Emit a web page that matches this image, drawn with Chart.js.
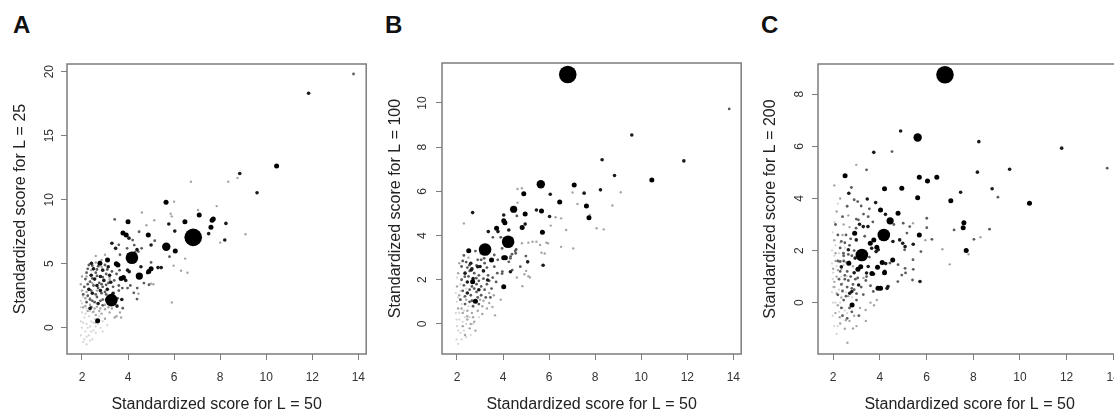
<!DOCTYPE html>
<html>
<head>
<meta charset="utf-8">
<script src="https://cdn.jsdelivr.net/npm/chart.js@4.4.1/dist/chart.umd.min.js"></script>
<style>
  html, body { margin: 0; padding: 0; background: #fff; width: 1114px; height: 411px; overflow: hidden; }
  .panel { position: absolute; top: 0; height: 411px; }
  .letra { position: absolute; top: 13px; font: bold 24px "Liberation Sans", Arial, sans-serif; line-height: 24px; color: #111; }
</style>
</head>
<body>
<div class="letra" style="left:13px">A</div>
<div class="letra" style="left:385px">B</div>
<div class="letra" style="left:761px">C</div>
<div class="panel" style="left:0;width:375px"><canvas id="chartA" width="375" height="411"></canvas></div>
<div class="panel" style="left:375px;width:375px"><canvas id="chartB" width="375" height="411"></canvas></div>
<div class="panel" style="left:750px;width:380px"><canvas id="chartC" width="380" height="411"></canvas></div>
<script>
// --- DATOS ---
const ticksX = [2, 4, 6, 8, 10, 12, 14];
const ticksYA = [0, 5, 10, 15, 20];
const ticksYB = [0, 2, 4, 6, 8, 10];
const ticksYC = [0, 2, 4, 6, 8];
const tituloX = 'Standardized score for L = 50';
const titulosY = ['Standardized score for L = 25', 'Standardized score for L = 100', 'Standardized score for L = 200'];

// [score L=50, score L=x, peso]
const puntosA = [
  [13.79,19.82,3],[11.84,18.31,4],[10.45,12.63,5],[8.85,12.05,4],[8.75,11.7,2],[8.35,11.4,2],[6.73,11.4,2],
  [9.6,10.55,4],[9.1,7.3,2],[7.85,9.5,2],[7.04,9.2,2],[7.09,8.8,5],[7.7,8.5,5],[7.65,8.4,5],[8.25,8.15,4],
  [7.6,7.85,5],[7.5,7.35,4],[8.2,6.85,4],[8.0,6.65,2],[6.83,7.06,9],[6.47,8.28,5],[5.65,9.8,5],[6.0,9.85,2],
  [5.85,8.9,2],[5.9,8.7,2],[5.77,8.1,4],[6.03,7.55,4],[5.66,6.33,7],[6.05,6.0,5],[5.8,5.55,3],[5.98,4.85,2],
  [6.48,5.4,2],[6.3,4.45,2],[6.58,4.3,2],[5.44,4.7,4],[5.3,4.7,4],[5.0,4.6,5],[4.9,4.4,5],[4.85,4.3,4],
  [5.0,5.1,3],[5.0,3.45,2],[4.88,7.24,5],[5.0,6.46,4],[5.14,8.4,2],[4.6,9.0,2],[4.8,8.0,2],[4.17,5.47,8],
  [4.49,4.04,6],[4.56,4.77,4],[4.0,8.28,5],[3.42,8.46,3],[3.78,7.4,5],[3.92,7.25,5],[4.04,7.0,4],[4.2,6.85,3],
  [3.3,6.6,4],[3.46,6.2,4],[4.27,6.46,3],[4.39,6.1,4],[3.96,6.2,3],[3.49,5.0,5],[3.56,4.9,5],[3.11,5.3,5],
  [2.78,5.03,5],[2.41,5.03,4],[3.14,4.77,4],[3.2,4.1,4],[3.7,3.85,5],[3.8,3.93,5],[3.9,3.7,4],[3.98,4.5,4],
  [4.05,4.38,4],[3.63,4.5,3],[3.28,2.16,8],[3.52,1.69,4],[3.73,2.21,4],[4.25,2.73,3],[4.39,2.24,3],[2.35,1.51,4],
  [2.68,0.55,5],[3.42,0.8,2],[5.9,1.98,2],[4.48,7.5,3],[5.16,6.8,3],[4.59,6.2,3],[4.45,5.95,3],[3.6,6.48,3],
  [4.3,5.9,3],[3.65,5.7,3],[3.0,5.7,2],[2.6,5.6,2],[4.69,3.49,3],[4.91,3.36,3],[5.1,3.4,2],[3.98,3.1,3],
  [4.45,2.65,2],[3.77,1.53,3],[3.7,0.8,2],[4.1,3.3,3],[4.4,3.1,3],[3.6,3.3,3],[3.35,2.7,4],[3.55,2.3,3],
  [2.3,4.9,3],[2.5,4.6,4],[2.7,4.8,3],[2.9,4.5,4],[3.0,4.9,3],[2.2,4.3,3],[2.4,4.1,4],[2.6,4.3,3],[2.8,4.0,4],
  [3.05,4.2,3],[3.3,4.4,3],[2.15,3.8,3],[2.35,3.6,3],[2.55,3.8,4],[2.75,3.5,3],[2.95,3.7,4],[3.15,3.5,3],
  [3.4,3.7,3],[2.1,3.2,3],[2.3,3.0,4],[2.5,3.3,3],[2.7,3.1,3],[2.9,3.2,3],[3.1,3.0,4],[3.35,3.2,3],[2.05,2.6,3],
  [2.25,2.5,3],[2.45,2.7,4],[2.65,2.4,3],[2.85,2.7,3],[3.05,2.6,3],[2.2,2.0,3],[2.45,2.1,3],[2.7,1.9,4],
  [2.9,2.2,3],[3.6,2.9,3],[3.75,3.1,3],[3.5,4.2,3],
  [2.25,4.6,3],[2.45,4.85,3],[2.65,4.55,3],[2.85,4.75,2],[3.1,4.55,3],[2.2,4.0,2],[2.45,3.85,3],[2.65,4.05,3],
  [2.9,3.95,3],[3.2,3.75,2],[2.25,3.4,3],[2.45,3.5,2],[2.65,3.3,4],[2.85,3.4,3],[3.05,3.35,3],[3.25,3.55,4],
  [2.2,2.8,2],[2.4,2.9,3],[2.6,2.6,3],[2.8,2.9,4],[3.0,2.8,3],[3.2,2.45,3],[2.35,2.2,3],[2.55,2.0,3],
  [2.8,2.1,3],[3.05,2.2,3],[2.15,1.7,2],[2.4,1.6,3],[2.65,1.65,2],[2.9,1.75,3],[3.15,1.6,2],[2.5,1.25,2],
  [2.75,1.3,2],[3.0,1.45,2],[2.6,0.4,2],[3.0,0.7,2],[3.3,1.5,2],[3.65,1.2,2],
  [2.0,4.0,2],[1.95,3.4,2],[2.0,2.9,2],[2.15,2.3,2],[2.35,1.8,2],[2.55,1.5,2],[2.8,1.5,2],[3.0,1.8,2],
  [2.05,1.6,2],[2.25,1.3,2],[2.6,1.0,2],[2.85,1.1,2],[3.2,1.2,2],[3.5,0.9,2],[2.4,4.5,2],[2.6,5.1,2],
  [2.85,5.3,2],[3.2,3.9,2],[2.65,2.9,2],[2.35,2.3,2],
  [1.95,2.1,1],[2.0,1.2,1],[2.1,0.8,1],[1.95,0.5,1],[2.2,0.3,1],[2.0,0.0,1],[2.15,-0.3,1],[1.95,-0.6,1],
  [2.1,-0.9,1],[2.2,-1.3,1],[2.3,0.9,1],[2.4,0.5,1],[2.35,0.1,1],[2.5,-0.2,1],[2.3,-0.6,1],[2.45,-0.9,1],
  [2.55,0.7,1],[2.7,0.3,1],[2.6,-0.4,1],[2.8,0.0,1],[2.9,0.5,1],[2.0,1.9,1],[2.2,1.5,1],[2.45,1.2,1],
  [2.1,2.6,1],[2.9,-0.3,1],[3.1,0.2,1],[2.75,0.9,1],[2.05,0.4,1],[2.25,0.0,1],[2.4,-0.3,1],[2.2,-0.7,1],
  [2.05,-1.1,1],[2.35,-1.0,1],[2.6,0.1,1],[2.5,0.4,1],[2.15,1.1,1],[2.35,1.3,1],[1.95,1.6,1],[2.05,2.4,1]
];

const puntosB = [
  [6.81,11.29,9],[13.82,9.73,3],[9.59,8.55,4],[8.3,7.43,4],[11.85,7.38,4],[8.84,6.72,4],[10.46,6.52,5],
  [9.11,5.96,2],[8.75,5.36,2],[8.06,4.33,2],[8.37,4.28,2],[8.23,6.07,4],[7.09,6.29,5],[7.02,5.95,2],
  [7.52,5.92,4],[7.23,5.43,2],[7.62,5.34,5],[7.73,4.81,5],[7.77,4.93,2],[5.64,6.32,7],[6.05,5.87,4],
  [6.46,5.52,5],[5.45,5.16,4],[5.67,5.11,5],[6.02,4.86,4],[6.28,4.83,2],[6.07,4.45,2],[5.71,4.15,5],
  [4.46,5.19,6],[4.9,5.89,5],[4.96,4.98,5],[4.96,4.52,4],[4.83,4.36,5],[4.6,4.89,3],[4.63,5.49,2],
  [4.63,6.11,2],[4.22,3.72,8],[3.22,3.37,8],[4.03,4.93,4],[4.03,4.67,5],[4.08,4.58,5],[3.72,4.33,5],
  [3.78,4.18,4],[3.36,4.18,4],[3.56,3.92,3],[3.9,3.92,3],[4.25,4.25,4],[2.68,5.04,4],[2.3,4.55,2],
  [2.51,3.31,5],[2.54,2.66,3],[2.9,2.59,4],[3.0,2.6,4],[3.5,2.89,5],[3.18,2.97,3],[3.96,3.42,3],
  [4.03,3.0,5],[4.1,3.0,5],[4.32,2.97,3],[4.39,3.16,3],[4.53,3.31,3],[4.57,3.37,3],[4.25,2.81,3],
  [4.32,2.36,4],[3.96,2.28,3],[4.03,1.68,5],[5.07,2.81,4],[5.74,2.66,4],[4.82,3.65,2],[5.1,3.68,2],
  [5.28,3.72,2],[5.45,3.72,2],[5.61,3.57,2],[5.88,3.68,2],[5.95,3.65,2],[5.67,3.22,2],[5.81,3.19,2],
  [4.99,3.07,3],[4.93,2.25,2],[5.1,2.16,2],[5.17,2.1,2],[4.6,2.1,2],[4.84,1.71,2],[6.52,3.49,2],
  [7.05,3.42,2],[6.74,4.25,2],[6.52,4.78,2],[4.82,6.14,2],[3.65,0.39,2],[3.54,0.77,2],[2.8,1.03,5],
  [2.68,1.91,5],[3.52,2.9,4],[2.62,2.44,4],[2.84,2.07,3],[2.34,2.14,3],[3.33,1.99,4],[3.62,2.59,3],
  [3.97,2.37,3],[4.33,3.05,3],[4.4,2.44,3],[4.55,3.2,3],[4.75,2.59,3],[5.0,2.4,2],[3.05,3.2,3],
  [3.62,3.12,3],[3.77,2.9,3],
  [2.2,2.6,3],[2.4,2.8,3],[2.35,2.3,4],[2.55,2.4,3],[2.75,2.3,3],[2.95,2.2,3],[3.15,2.4,4],[3.35,2.2,3],
  [3.55,2.1,3],[2.2,2.0,3],[2.45,1.9,4],[2.65,1.7,3],[2.85,1.8,3],[3.05,1.7,3],[3.3,1.8,3],[3.5,1.6,3],
  [2.25,1.5,3],[2.45,1.4,4],[2.6,1.3,3],[2.85,1.45,3],[3.05,1.3,3],[3.25,1.2,3],[2.15,1.1,3],[2.35,0.9,3],
  [2.55,1.0,3],[2.7,0.8,3],[2.95,0.9,3],[2.6,2.75,4],[2.9,2.9,3],[3.2,2.75,3],[3.75,2.3,3],[3.7,1.9,3],
  [2.3,3.1,3],[2.8,3.3,3],
  [2.25,2.85,3],[2.45,2.55,3],[2.65,2.5,4],[2.85,2.65,3],[3.05,2.9,3],[3.3,2.55,3],[2.3,1.75,3],[2.5,2.15,3],
  [2.7,2.05,4],[2.95,1.95,3],[3.15,2.05,3],[3.4,1.95,3],[2.35,1.25,3],[2.55,1.55,3],[2.75,1.6,3],[2.95,1.55,4],
  [3.2,1.55,3],[3.45,1.2,3],[2.4,1.1,2],[2.65,1.05,3],[2.9,1.2,3],[3.15,1.05,2],[2.2,0.7,2],[2.45,0.35,2],
  [2.7,0.3,2],[3.1,0.45,2],[3.4,0.95,2],[2.6,0.0,2],[2.35,-0.5,2],
  [2.05,2.3,2],[2.0,1.7,2],[2.1,1.3,2],[2.05,0.7,2],[2.25,0.5,2],[2.45,0.6,2],[2.65,0.5,2],[2.9,0.6,2],
  [3.1,0.8,2],[3.3,0.7,2],[2.25,-0.1,2],[2.45,0.2,2],[2.55,-0.2,2],[2.75,0.1,2],[2.8,-0.3,2],[3.4,1.4,2],
  [3.6,1.3,2],[3.9,1.1,2],[2.1,2.75,2],[2.5,3.0,2],[3.0,1.1,2],
  [1.95,1.4,1],[2.0,1.0,1],[1.95,0.5,1],[2.1,0.2,1],[2.0,-0.1,1],[2.15,-0.4,1],[1.98,-0.7,1],[2.05,-0.9,1],
  [2.2,0.9,1],[2.35,0.3,1],[2.3,-0.3,1],[2.4,-0.6,1],[2.55,0.3,1],[2.6,-0.5,1],[2.7,0.0,1],[2.15,1.8,1],
  [2.3,1.2,1],[2.5,0.8,1],[2.95,0.3,1],[2.0,2.1,1],[2.4,1.6,1],[2.1,0.5,1],[2.25,0.1,1],[2.05,-0.3,1],
  [2.2,-0.7,1],[2.4,0.0,1],[1.98,0.2,1],[2.15,1.5,1],[2.3,0.6,1],[2.05,1.2,1]
];

const puntosC = [
  [6.79,8.75,9],[4.89,6.59,4],[5.62,6.34,7],[3.74,5.77,4],[4.52,5.8,3],[2.99,5.29,2],[3.43,5.1,3],
  [2.51,4.87,5],[5.69,4.81,5],[6.04,4.67,5],[6.44,4.81,5],[8.24,6.18,4],[11.79,5.93,4],[13.74,5.16,3],
  [9.56,5.12,4],[8.18,5.01,4],[8.81,4.37,4],[9.06,4.05,3],[10.41,3.82,5],[7.46,4.24,4],[7.04,3.91,5],
  [4.2,4.37,5],[4.94,4.39,5],[5.62,4.03,5],[2.67,4.2,4],[3.46,3.98,4],[3.82,3.84,4],[4.03,3.56,5],
  [4.24,3.39,4],[4.44,3.14,6],[4.78,3.43,5],[4.17,2.6,8],[3.23,1.83,8],[5.69,2.6,5],[6.01,3.24,3],
  [6.01,2.88,3],[7.6,3.07,5],[7.57,2.88,5],[7.7,2.0,5],[7.8,1.86,2],[7.18,2.79,3],[8.7,2.82,3],
  [8.31,2.51,2],[8.03,2.43,3],[6.68,2.05,2],[6.99,1.47,2],[6.23,2.43,3],[5.76,1.96,3],[5.43,2.24,4],
  [5.08,2.15,4],[4.98,2.28,4],[5.08,1.32,3],[5.43,1.28,3],[5.72,0.81,4],[5.4,0.87,3],[4.94,1.06,3],
  [4.77,0.81,3],[4.55,1.64,5],[4.31,0.55,4],[4.03,0.55,5],[3.92,0.55,5],[4.2,1.15,5],[4.1,1.54,5],
  [3.9,1.36,5],[3.73,1.1,4],[3.84,1.96,4],[3.87,2.13,5],[3.59,2.28,5],[3.74,2.41,5],[2.99,2.41,4],
  [2.92,2.66,5],[3.49,2.92,4],[3.13,3.01,4],[2.99,3.21,3],[3.2,3.71,3],[2.78,4.42,3],[2.81,-0.09,5],
  [2.71,0.36,4],[3.09,0.68,4],[2.67,1.51,5],[3.06,1.28,5],[3.18,1.38,5],[2.9,1.15,4],[2.35,1.38,4],
  [2.61,-1.54,2],[2.85,-0.99,2],[2.54,-0.67,2],[2.28,-0.56,2],[3.39,-0.28,2],[3.87,0.1,2],
  [3.08,3.18,3],[3.29,2.92,4],[2.98,2.86,3],[3.93,2.03,4],[3.65,2.09,4],[2.65,2.03,4],[2.44,1.9,3],
  [2.3,1.58,3],[2.94,1.71,4],[3.5,1.39,4],[3.43,1.14,4],[3.66,1.12,5],[4.21,1.2,4],[4.25,1.5,4],
  [4.43,1.52,3],[4.35,0.62,4],[2.8,0.43,4],[3.29,0.31,3],[3.72,0.43,3],[3.43,1.0,3],[5.06,2.03,3],
  [5.42,1.65,3],[5.1,1.14,3],[4.78,1.46,3],[5.16,2.67,3],[4.85,2.41,4],[4.56,2.35,4],[4.6,3.0,3],
  [5.28,2.92,3],[5.0,3.05,3],[5.95,2.4,2],[5.42,3.05,2],[2.9,3.95,3],[3.05,3.88,3],
  [2.3,2.1,3],[2.5,2.3,3],[2.7,2.2,3],[2.45,1.8,3],[2.8,1.8,3],[2.2,1.6,3],[2.6,1.2,3],[2.75,1.0,3],
  [2.5,0.9,3],[2.95,0.9,3],[2.35,0.7,3],[2.6,0.6,3],[2.9,0.5,3],[2.2,0.3,3],[2.45,0.1,3],[2.7,-0.2,3],
  [3.0,0.1,3],[3.2,0.6,3],[2.4,-0.5,3],[3.1,-0.5,3],[2.2,2.6,3],[2.4,3.3,3],[2.6,3.7,3],[3.3,3.4,3],
  [2.1,3.0,3],[3.5,3.3,3],
  [2.3,1.2,3],[2.5,1.05,3],[2.65,0.85,3],[2.85,0.7,3],[3.05,0.95,3],[2.25,0.9,3],[2.4,0.45,3],[2.55,0.25,3],
  [2.8,0.55,3],[3.0,0.35,3],[2.35,-0.2,3],[2.6,-0.6,3],[2.8,-0.35,3],[2.45,1.6,3],[2.65,1.85,3],[2.9,2.0,3],
  [2.35,2.35,3],[2.55,2.6,3],[2.75,2.45,3],[2.45,3.0,2],[2.65,3.35,2],[3.55,3.6,3],[3.7,3.1,3],[3.35,2.55,3],
  [3.55,1.75,3],[3.4,0.85,3],[3.6,0.65,3],[3.75,-0.1,2],[3.15,-0.2,2],
  [2.05,2.4,2],[2.1,1.9,2],[2.0,1.3,2],[2.15,1.0,2],[2.05,0.6,2],[2.2,-0.1,2],[2.1,-0.4,2],[2.3,-0.8,2],
  [2.5,-1.0,2],[2.7,-0.7,2],[2.9,-0.5,2],[3.0,-0.9,2],[2.35,1.3,2],[2.55,1.55,2],[2.85,1.4,2],[2.4,2.6,2],
  [2.7,2.9,2],[2.15,3.5,2],[2.3,4.0,2],[2.05,4.5,2],[3.4,-0.7,2],[3.6,0.0,2],[3.3,0.95,2],[2.65,0.25,2],
  [2.1,1.6,2],[2.2,1.25,2],[2.05,0.8,2],[2.15,0.35,2],[2.35,0.2,2],
  [1.95,2.0,1],[1.95,1.5,1],[1.98,0.9,1],[1.95,0.4,1],[2.0,0.0,1],[1.98,-0.5,1],[2.05,-0.9,1],[2.15,-1.2,1],
  [2.25,0.5,1],[2.3,0.0,1],[2.4,0.4,1],[2.55,0.4,1],[2.35,1.0,1],[2.15,1.4,1],[2.25,1.9,1],[2.5,-0.3,1],
  [2.6,-0.4,1],[2.8,0.2,1],[1.98,2.7,1],[2.1,2.2,1],[2.45,1.45,1],[2.7,1.6,1],[2.1,0.0,1],[2.25,-0.35,1],
  [2.4,-0.2,1],[2.0,1.15,1],[2.25,1.55,1],[2.4,0.75,1],[2.6,1.0,1],[2.05,1.8,1],[2.3,2.3,1],[2.5,2.1,1],
  [2.05,3.1,1],[2.2,3.8,1],[1.98,0.6,1],[2.2,-0.9,1]
];

// --- ESTILO ---
const FUENTE = '"Liberation Sans", Arial, sans-serif';
const RADIO = [0, 1.1, 1.2, 1.4, 1.8, 2.5, 3.6, 4.2, 6.3, 8.8];
const COLOR = ['#fff', '#d4d4d4', '#a4a4a4', '#5c5c5c', '#1a1a1a', '#000', '#000', '#000', '#000', '#000'];
const GRIS_EJE = '#7c7c7c';

// Caja de R y etiquetas del eje y giradas
const pluginCaja = {
    id: 'cajaR',
    afterDatasetsDraw(chart) {
        const { ctx, chartArea: a } = chart;
        ctx.save();
        ctx.strokeStyle = GRIS_EJE;
        ctx.lineWidth = 1.5;
        ctx.strokeRect(a.left, a.top, a.right - a.left, a.bottom - a.top);
        ctx.restore();
    },
    afterDraw(chart, args, opts) {
        const { ctx } = chart;
        const ys = chart.scales.y;
        ctx.save();
        ctx.font = '12px ' + FUENTE;
        ctx.fillStyle = '#333';
        ctx.textAlign = 'center';
        ctx.textBaseline = 'middle';
        ys.ticks.forEach(t => {
            ctx.save();
            ctx.translate(ys.right - opts.offset, ys.getPixelForValue(t.value));
            ctx.rotate(-Math.PI / 2);
            ctx.fillText(String(t.value), 0, 0);
            ctx.restore();
        });
        ctx.restore();
    }
};

function crearPanel(id, puntos, ticksY, yMin, yMax, tituloY, geo) {
    const datos = puntos
        .map(p => ({ x: p[0], y: p[1], w: p[2] }))
        .sort((a, b) => a.w - b.w);

    return new Chart(document.getElementById(id), {
        type: 'scatter',
        data: {
            datasets: [{
                data: datos,
                pointRadius: ctx => RADIO[ctx.raw.w],
                pointHoverRadius: ctx => RADIO[ctx.raw.w],
                pointBackgroundColor: ctx => COLOR[ctx.raw.w],
                pointBorderWidth: 0,
                borderWidth: 0
            }]
        },
        options: {
            responsive: false,
            animation: false,
            events: [],
            layout: { padding: { left: 0, right: geo.der, top: geo.arriba, bottom: 0 } },
            plugins: { legend: { display: false }, tooltip: { enabled: false }, cajaR: { offset: geo.offset } },
            scales: {
                x: {
                    type: 'linear', bounds: 'data', min: 1.35, max: 14.34,
                    afterBuildTicks: s => { s.ticks = ticksX.map(v => ({ value: v })); },
                    afterFit: s => { s.height = 57; s.paddingLeft = 0; s.paddingRight = 0; },
                    grid: { drawOnChartArea: false, tickLength: 6, color: GRIS_EJE, lineWidth: 1 },
                    border: { display: false },
                    ticks: { font: { size: 12, family: FUENTE }, color: '#333', padding: 10, maxRotation: 0, autoSkip: false },
                    title: { display: true, text: tituloX, font: { size: 16, family: FUENTE }, color: '#222', padding: { top: 0, bottom: -3 } }
                },
                y: {
                    type: 'linear', bounds: 'data', min: yMin, max: yMax,
                    afterBuildTicks: s => { s.ticks = ticksY.map(v => ({ value: v })); },
                    afterFit: s => { s.width = geo.izq; s.paddingTop = 0; s.paddingBottom = 0; },
                    grid: { drawOnChartArea: false, tickLength: 6, color: GRIS_EJE, lineWidth: 1 },
                    border: { display: false },
                    ticks: { display: false },
                    title: { display: true, text: tituloY, font: { size: 16, family: FUENTE }, color: '#222', padding: { top: geo.tituloPad, bottom: 0 } }
                }
            }
        },
        plugins: [pluginCaja]
    });
}

crearPanel('chartA', puntosA, ticksYA, -2.05, 20.6, titulosY[0], { izq: 67, der: 4, arriba: 64, offset: 17, tituloPad: 11.4 });
crearPanel('chartB', puntosB, ticksYB, -1.36, 11.81, titulosY[1], { izq: 67, der: 3, arriba: 63, offset: 19.5, tituloPad: 11.4 });
crearPanel('chartC', puntosC, ticksYC, -1.97, 9.16, titulosY[2], { izq: 68, der: 7, arriba: 64, offset: 18.5, tituloPad: 11.4 });
</script>
</body>
</html>
